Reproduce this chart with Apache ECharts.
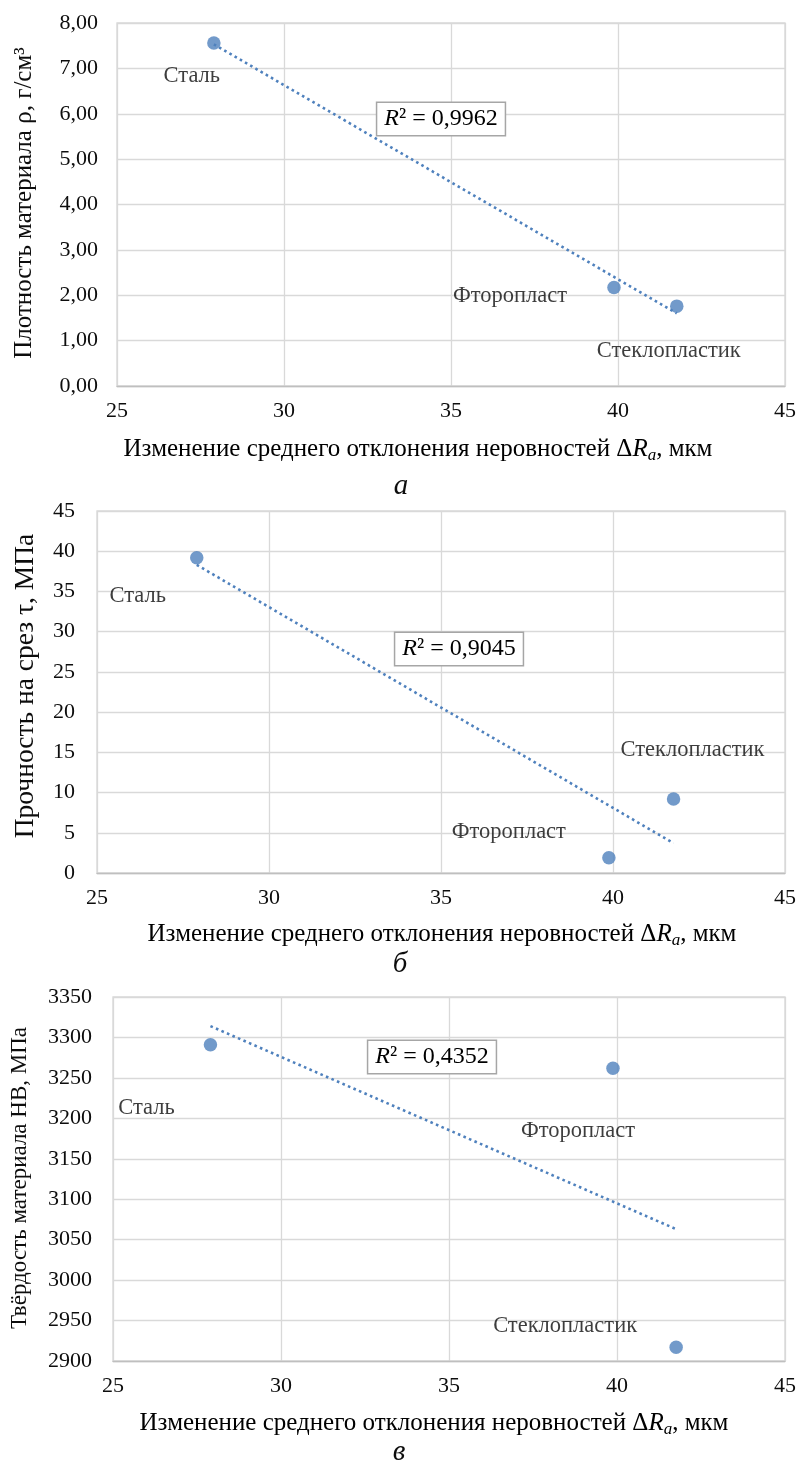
<!DOCTYPE html>
<html><head><meta charset="utf-8">
<script src="https://cdn.jsdelivr.net/npm/echarts@6/dist/echarts.min.js"></script>
<style>html,body{margin:0;padding:0;background:#fff}#c{width:799px;height:1466px}</style>
</head><body><div id="c"></div>
<script>
// ---- data ----
const materials = ['Сталь', 'Фторопласт', 'Стеклопластик'];
const deltaRa = [27.9, 39.88, 41.76];
const density = [7.56, 2.17, 1.76];
const shear = [39.2, 1.9, 9.2];
const hardness = [3291, 3262, 2917];
const trendX = [27.9, 41.76];
const densityTrend = [7.53, 1.60];
const shearTrend = [38.3, 3.7];
const hardnessTrend = [3314, 3063];
const r2Values = ['0,9962', '0,9045', '0,4352'];
const captions = ['а', 'б', 'в'];
const yTitles = ['Плотность материала ρ, г/см³', 'Прочность на срез τ, МПа', 'Твёрдость материала НВ, МПа'];

// ---- layout / style config ----
const FONT = 'Liberation Serif';
const BLUE = '#4f81bd';
const GRIDC = '#d9d9d9';
const TXT = '#0d0d0d';
const panels = [
  { grid: {left: 117, top: 23, width: 671, height: 363}, y: density, trend: densityTrend,
    yMin: 0, yMax: 8, yInt: 1, fmt: v => v.toFixed(2).replace('.', ','), yMargin: 19,
    offs: [[-22, 33], [-104, 9], [-8, 45]],
    xTitle: [418, 449], yTitle: [24, 203], yTitleSize: 25, cap: [401, 486], r2: [441, 119] },
  { grid: {left: 97, top: 511, width: 689, height: 362}, y: shear, trend: shearTrend,
    yMin: 0, yMax: 45, yInt: 5, fmt: v => String(v), yMargin: 22,
    offs: [[-59, 38], [-100, -26], [19, -49]],
    xTitle: [442, 934], yTitle: [26, 686], yTitleSize: 27.5, cap: [400, 964], r2: [459, 649] },
  { grid: {left: 113, top: 997, width: 677, height: 364}, y: hardness, trend: hardnessTrend,
    yMin: 2900, yMax: 3350, yInt: 50, fmt: v => String(v), yMargin: 21,
    offs: [[-64, 63], [-35, 63], [-111, -21]],
    xTitle: [434, 1423], yTitle: [20, 1178], yTitleSize: 23, cap: [399, 1452], r2: [432, 1057] }
];

const grids = [], xAxes = [], yAxes = [], series = [], graphics = [];
panels.forEach((p, k) => {
  grids.push(Object.assign({show: true, borderColor: GRIDC, borderWidth: 1.3, backgroundColor: '#fff'}, p.grid));
  xAxes.push({
    gridIndex: k, type: 'value', min: 25, max: 45, interval: 5,
    axisLine: {show: true, lineStyle: {color: '#bfbfbf', width: 1.3}},
    axisTick: {show: false},
    splitLine: {show: true, lineStyle: {color: GRIDC, width: 1.3}},
    axisLabel: {fontFamily: FONT, fontSize: 22, color: TXT, margin: 14}
  });
  yAxes.push({
    gridIndex: k, type: 'value', min: p.yMin, max: p.yMax, interval: p.yInt,
    axisLine: {show: false}, axisTick: {show: false},
    splitLine: {show: true, lineStyle: {color: GRIDC, width: 1.3}},
    axisLabel: {fontFamily: FONT, fontSize: 22, color: TXT, margin: p.yMargin, formatter: p.fmt}
  });
  series.push({
    type: 'line', xAxisIndex: k, yAxisIndex: k, silent: true, showSymbol: false, symbol: 'none',
    data: trendX.map((x, i) => [x, p.trend[i]]),
    lineStyle: {color: BLUE, width: 2.6, type: [2.6, 3.4]}, z: 3
  });
  series.push({
    type: 'scatter', xAxisIndex: k, yAxisIndex: k, symbol: 'circle', symbolSize: 13.5,
    itemStyle: {color: BLUE},
    data: deltaRa.map((x, i) => ({name: materials[i], value: [x, p.y[i]], label: {offset: p.offs[i]}})),
    label: {show: true, position: 'inside', formatter: '{b}', fontFamily: FONT, fontSize: 22.5, color: TXT},
    z: 4
  });
  graphics.push({
    type: 'text', x: p.xTitle[0], y: p.xTitle[1], z: 10,
    style: {
      text: '{n|Изменение среднего отклонения неровностей Δ}{r|R}{s|a}{n|, мкм}',
      align: 'center', verticalAlign: 'middle',
      rich: {
        n: {fontFamily: FONT, fontSize: 25, color: TXT},
        r: {fontFamily: FONT, fontSize: 25, fontStyle: 'italic', color: TXT},
        s: {fontFamily: FONT, fontSize: 17, fontStyle: 'italic', color: '#2e4a8a', padding: [13, 0, 0, 0]}
      }
    }
  });
  graphics.push({
    type: 'text', x: p.yTitle[0], y: p.yTitle[1], rotation: Math.PI / 2, z: 10,
    style: {
      text: yTitles[k], fontFamily: FONT, fontSize: p.yTitleSize, fill: TXT,
      align: 'center', verticalAlign: 'middle'
    }
  });
  graphics.push({
    type: 'text', x: p.cap[0], y: p.cap[1], z: 10,
    style: {text: captions[k], fontFamily: FONT, fontSize: 29, fontStyle: 'italic', fill: TXT,
      align: 'center', verticalAlign: 'middle'}
  });
  graphics.push({
    type: 'text', x: p.r2[0], y: p.r2[1], z: 10,
    style: {
      text: '{i|R}{n|² = ' + r2Values[k] + '}',
      align: 'center', verticalAlign: 'middle',
      backgroundColor: '#fff', borderColor: '#a6a6a6', borderWidth: 1.5, padding: [4, 7, 4, 7],
      rich: {
        i: {fontFamily: FONT, fontSize: 24, fontStyle: 'italic', color: TXT},
        n: {fontFamily: FONT, fontSize: 24, color: TXT}
      }
    }
  });
});

const chart = echarts.init(document.getElementById('c'), null, {renderer: 'canvas'});
chart.setOption({
  animation: false,
  backgroundColor: '#fff',
  grid: grids, xAxis: xAxes, yAxis: yAxes, series: series, graphic: graphics
});
</script></body></html>
